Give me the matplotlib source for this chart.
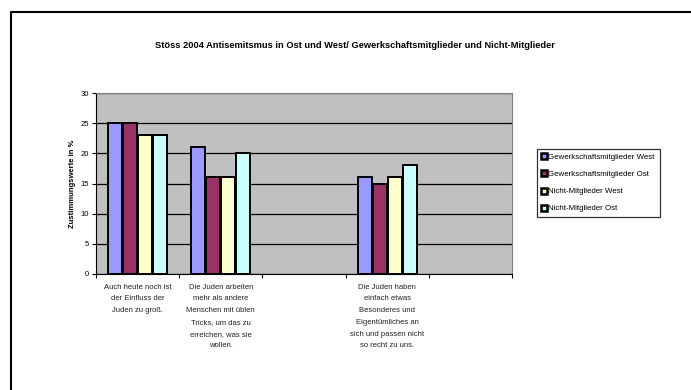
import numpy as np
import matplotlib
matplotlib.use('Agg')
import matplotlib.pyplot as plt
from matplotlib.lines import Line2D

plt.rcParams['font.family'] = ['Liberation Sans', 'DejaVu Sans']

# Kategorien (leere Kategorien ohne Werte)
categories = [
    'Auch heute noch ist\nder Einfluss der\nJuden zu groß.',
    'Die Juden arbeiten\nmehr als andere\nMenschen mit üblen\nTricks, um das zu\nerreichen, was sie\nwollen.',
    '',
    'Die Juden haben\neinfach etwas\nBesonderes und\nEigentümliches an\nsich und passen nicht\nso recht zu uns.',
    '',
]
series_names = ['Gewerkschaftsmitglieder West', 'Gewerkschaftsmitglieder Ost',
                'Nicht-Mitglieder West', 'Nicht-Mitglieder Ost']
gew_west = [25, 21, np.nan, 16, np.nan]
gew_ost = [25, 16, np.nan, 15, np.nan]
nicht_west = [23, 16, np.nan, 16, np.nan]
nicht_ost = [23, 20, np.nan, 18, np.nan]
colors = ['#9999FF', '#993366', '#FFFFCC', '#CCFFFF']

fig = plt.figure(figsize=(6.91, 3.9), dpi=100)
ax = fig.add_axes([96 / 691, 1 - 274 / 390, 416 / 691, 181 / 390])
ax.set_facecolor('#C0C0C0')

x = np.arange(len(categories)) + 0.5
slot = 0.18
w = 0.165
for i, (vals, c) in enumerate(zip([gew_west, gew_ost, nicht_west, nicht_ost], colors)):
    ax.bar(x + (i - 1.5) * slot, vals, w, color=c, edgecolor='black', linewidth=1.4, zorder=3)

ax.set_xlim(0, len(categories))
ax.set_ylim(0, 30)
ax.set_yticks(range(0, 31, 5))
ax.yaxis.grid(True, color='black', linewidth=0.9, zorder=0)
ax.set_axisbelow(True)

ax.set_xticks(range(len(categories) + 1))
ax.set_xticklabels([])
ax.set_xticks(x, minor=True)
ax.set_xticklabels(categories, minor=True, fontsize=5.5, color='#222222', linespacing=1.95, va='top')
ax.tick_params(axis='x', which='minor', length=0, pad=7)
ax.tick_params(axis='x', which='major', length=3, direction='out')
ax.tick_params(axis='y', labelsize=5.5, length=3, pad=2)

for s in ['top', 'right']:
    ax.spines[s].set_color('#808080')
for s in ['left', 'bottom']:
    ax.spines[s].set_color('black')

ax.set_ylabel('Zustimmungswerte in %', fontsize=5.5, fontweight='bold', labelpad=3)

fig.text(355 / 691, 1 - 46 / 390,
         'Stöss 2004 Antisemitsmus in Ost und West/ Gewerkschaftsmitglieder und Nicht-Mitglieder',
         ha='center', va='center', fontsize=6.7, fontweight='bold')

handles = [Line2D([], [], linestyle='none', marker='s', markersize=5,
                  markerfacecolor=c, markeredgecolor='black', markeredgewidth=1.8)
           for c in colors]
leg = fig.legend(handles, series_names, loc='center',
                 bbox_to_anchor=(598 / 691, 1 - 183 / 390),
                 fontsize=5.7, frameon=True, fancybox=False, handlelength=0.6,
                 handletextpad=0.3, labelspacing=1.2, borderpad=0.6)
leg.get_frame().set_edgecolor('black')
leg.get_frame().set_linewidth(0.9)

# Rahmen oben/links
fig.add_artist(Line2D([11 / 691, 11 / 691, 1], [0, 1 - 12 / 390, 1 - 12 / 390],
                      transform=fig.transFigure, color='black', linewidth=1.5))

fig.savefig('out.png', dpi=100)
